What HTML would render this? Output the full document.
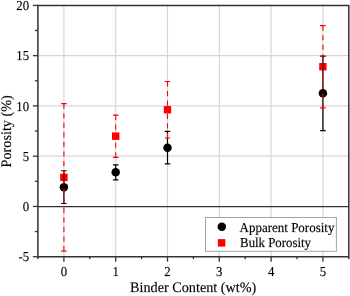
<!DOCTYPE html>
<html><head><meta charset="utf-8"><style>
html,body{margin:0;padding:0;background:#fff;width:350px;height:296px;overflow:hidden}
svg{display:block;will-change:transform}
text{font-family:"Liberation Serif", serif;fill:#000;stroke:#000;stroke-width:0.3px;stroke-opacity:0.45;text-rendering:geometricPrecision}
</style></head><body>
<svg width="350" height="296" viewBox="0 0 350 296">
<line x1="63.9" y1="5.4" x2="63.9" y2="256.7" stroke="#d6d6d6" stroke-width="1.2"/>
<line x1="115.7" y1="5.4" x2="115.7" y2="256.7" stroke="#d6d6d6" stroke-width="1.2"/>
<line x1="167.5" y1="5.4" x2="167.5" y2="256.7" stroke="#d6d6d6" stroke-width="1.2"/>
<line x1="219.3" y1="5.4" x2="219.3" y2="256.7" stroke="#d6d6d6" stroke-width="1.2"/>
<line x1="271.1" y1="5.4" x2="271.1" y2="256.7" stroke="#d6d6d6" stroke-width="1.2"/>
<line x1="322.9" y1="5.4" x2="322.9" y2="256.7" stroke="#d6d6d6" stroke-width="1.2"/>
<line x1="37.9" y1="156.18" x2="348.8" y2="156.18" stroke="#d6d6d6" stroke-width="1.2"/>
<line x1="37.9" y1="105.92" x2="348.8" y2="105.92" stroke="#d6d6d6" stroke-width="1.2"/>
<line x1="37.9" y1="55.66" x2="348.8" y2="55.66" stroke="#d6d6d6" stroke-width="1.2"/>
<line x1="37.9" y1="206.54" x2="348.8" y2="206.54" stroke="#333" stroke-width="1.2"/>
<line x1="32.9" y1="256.7" x2="37.9" y2="256.7" stroke="#333" stroke-width="1.3"/>
<text transform="translate(29.1,261.3) scale(0.94,1)" text-anchor="end" style="font-size:13.6px">-5</text>
<line x1="32.9" y1="206.44" x2="37.9" y2="206.44" stroke="#333" stroke-width="1.3"/>
<text transform="translate(29.1,211.04) scale(0.94,1)" text-anchor="end" style="font-size:13.6px">0</text>
<line x1="32.9" y1="156.18" x2="37.9" y2="156.18" stroke="#333" stroke-width="1.3"/>
<text transform="translate(29.1,160.78) scale(0.94,1)" text-anchor="end" style="font-size:13.6px">5</text>
<line x1="32.9" y1="105.92" x2="37.9" y2="105.92" stroke="#333" stroke-width="1.3"/>
<text transform="translate(29.1,110.52) scale(0.94,1)" text-anchor="end" style="font-size:13.6px">10</text>
<line x1="32.9" y1="55.66" x2="37.9" y2="55.66" stroke="#333" stroke-width="1.3"/>
<text transform="translate(29.1,60.26) scale(0.94,1)" text-anchor="end" style="font-size:13.6px">15</text>
<line x1="32.9" y1="5.4" x2="37.9" y2="5.4" stroke="#333" stroke-width="1.3"/>
<text transform="translate(29.1,10.0) scale(0.94,1)" text-anchor="end" style="font-size:13.6px">20</text>
<line x1="34.9" y1="231.57" x2="37.9" y2="231.57" stroke="#333" stroke-width="1.3"/>
<line x1="34.9" y1="181.31" x2="37.9" y2="181.31" stroke="#333" stroke-width="1.3"/>
<line x1="34.9" y1="131.05" x2="37.9" y2="131.05" stroke="#333" stroke-width="1.3"/>
<line x1="34.9" y1="80.79" x2="37.9" y2="80.79" stroke="#333" stroke-width="1.3"/>
<line x1="34.9" y1="30.53" x2="37.9" y2="30.53" stroke="#333" stroke-width="1.3"/>
<line x1="63.9" y1="256.7" x2="63.9" y2="261.7" stroke="#333" stroke-width="1.3"/>
<text transform="translate(63.9,275.6) scale(0.94,1)" text-anchor="middle" style="font-size:13.6px">0</text>
<line x1="115.7" y1="256.7" x2="115.7" y2="261.7" stroke="#333" stroke-width="1.3"/>
<text transform="translate(115.7,275.6) scale(0.94,1)" text-anchor="middle" style="font-size:13.6px">1</text>
<line x1="167.5" y1="256.7" x2="167.5" y2="261.7" stroke="#333" stroke-width="1.3"/>
<text transform="translate(167.5,275.6) scale(0.94,1)" text-anchor="middle" style="font-size:13.6px">2</text>
<line x1="219.3" y1="256.7" x2="219.3" y2="261.7" stroke="#333" stroke-width="1.3"/>
<text transform="translate(219.3,275.6) scale(0.94,1)" text-anchor="middle" style="font-size:13.6px">3</text>
<line x1="271.1" y1="256.7" x2="271.1" y2="261.7" stroke="#333" stroke-width="1.3"/>
<text transform="translate(271.1,275.6) scale(0.94,1)" text-anchor="middle" style="font-size:13.6px">4</text>
<line x1="322.9" y1="256.7" x2="322.9" y2="261.7" stroke="#333" stroke-width="1.3"/>
<text transform="translate(322.9,275.6) scale(0.94,1)" text-anchor="middle" style="font-size:13.6px">5</text>
<line x1="89.8" y1="256.7" x2="89.8" y2="259.2" stroke="#333" stroke-width="1.3"/>
<line x1="141.6" y1="256.7" x2="141.6" y2="259.2" stroke="#333" stroke-width="1.3"/>
<line x1="193.4" y1="256.7" x2="193.4" y2="259.2" stroke="#333" stroke-width="1.3"/>
<line x1="245.2" y1="256.7" x2="245.2" y2="259.2" stroke="#333" stroke-width="1.3"/>
<line x1="297.0" y1="256.7" x2="297.0" y2="259.2" stroke="#333" stroke-width="1.3"/>
<path d="M37.9,258.9 V5.4 H348.8 V258.9 M37.199999999999996,256.7 H349.5" fill="none" stroke="#333" stroke-width="1.5"/>
<circle cx="63.9" cy="187.14" r="4.25" fill="#000"/>
<circle cx="115.7" cy="172.36" r="4.25" fill="#000"/>
<circle cx="167.5" cy="147.64" r="4.25" fill="#000"/>
<circle cx="322.9" cy="93.36" r="4.25" fill="#000"/>
<rect x="60.2" y="173.69" width="7.4" height="7.4" fill="#ff0000"/>
<rect x="112.0" y="132.48" width="7.4" height="7.4" fill="#ff0000"/>
<rect x="163.8" y="106.04" width="7.4" height="7.4" fill="#ff0000"/>
<rect x="319.2" y="63.02" width="7.4" height="7.4" fill="#ff0000"/>
<path d="M63.9,170.76 V203.52 M61.15,170.76 H66.65 M61.15,203.52 H66.65" stroke="#000" stroke-width="1.2" fill="none"/>
<path d="M115.7,164.93 V179.8 M112.95,164.93 H118.45 M112.95,179.8 H118.45" stroke="#000" stroke-width="1.2" fill="none"/>
<path d="M167.5,131.35 V163.92 M164.75,131.35 H170.25 M164.75,163.92 H170.25" stroke="#000" stroke-width="1.2" fill="none"/>
<path d="M322.9,56.06 V130.65 M320.15,56.06 H325.65 M320.15,130.65 H325.65" stroke="#000" stroke-width="1.2" fill="none"/>
<path d="M63.9,251.07 V177.39 M63.9,103.71 V177.39" stroke="#ff0000" stroke-width="1.1" stroke-dasharray="5.1 4.44" fill="none"/>
<path d="M61.15,103.71 H66.65 M61.15,251.07 H66.65" stroke="#ff0000" stroke-width="1.2" fill="none"/>
<path d="M115.7,157.29 V136.18 M115.7,115.07 V136.18" stroke="#ff0000" stroke-width="1.1" stroke-dasharray="5.1 4.44" fill="none"/>
<path d="M112.95,115.07 H118.45 M112.95,157.29 H118.45" stroke="#ff0000" stroke-width="1.2" fill="none"/>
<path d="M167.5,137.99 V109.74 M167.5,81.49 V109.74" stroke="#ff0000" stroke-width="1.1" stroke-dasharray="5.1 4.44" fill="none"/>
<path d="M164.75,81.49 H170.25 M164.75,137.99 H170.25" stroke="#ff0000" stroke-width="1.2" fill="none"/>
<path d="M322.9,107.83 V66.72 M322.9,25.6 V66.72" stroke="#ff0000" stroke-width="1.1" stroke-dasharray="5.1 4.44" fill="none"/>
<path d="M320.15,25.6 H325.65 M320.15,107.83 H325.65" stroke="#ff0000" stroke-width="1.2" fill="none"/>
<rect x="205.5" y="217.5" width="130.9" height="33.8" fill="#fff" stroke="#a4a4a4" stroke-width="1"/>
<circle cx="221.8" cy="226.8" r="4.25" fill="#000"/>
<rect x="217.9" y="239.1" width="7.4" height="7.5" fill="#ff0000"/>
<text transform="translate(239.6,231.6) scale(0.955,1)" text-anchor="start" style="font-size:13.6px">Apparent Porosity</text>
<text transform="translate(240.1,247.2) scale(0.943,1)" text-anchor="start" style="font-size:13.6px">Bulk Porosity</text>
<text transform="translate(193.2,292.0) scale(0.98,1)" text-anchor="middle" style="font-size:14.5px">Binder Content (wt%)</text>
<text transform="translate(11.0,131.3) rotate(-90) scale(0.98,1)" text-anchor="middle" style="font-size:14.5px">Porosity (%)</text>
</svg>
</body></html>
